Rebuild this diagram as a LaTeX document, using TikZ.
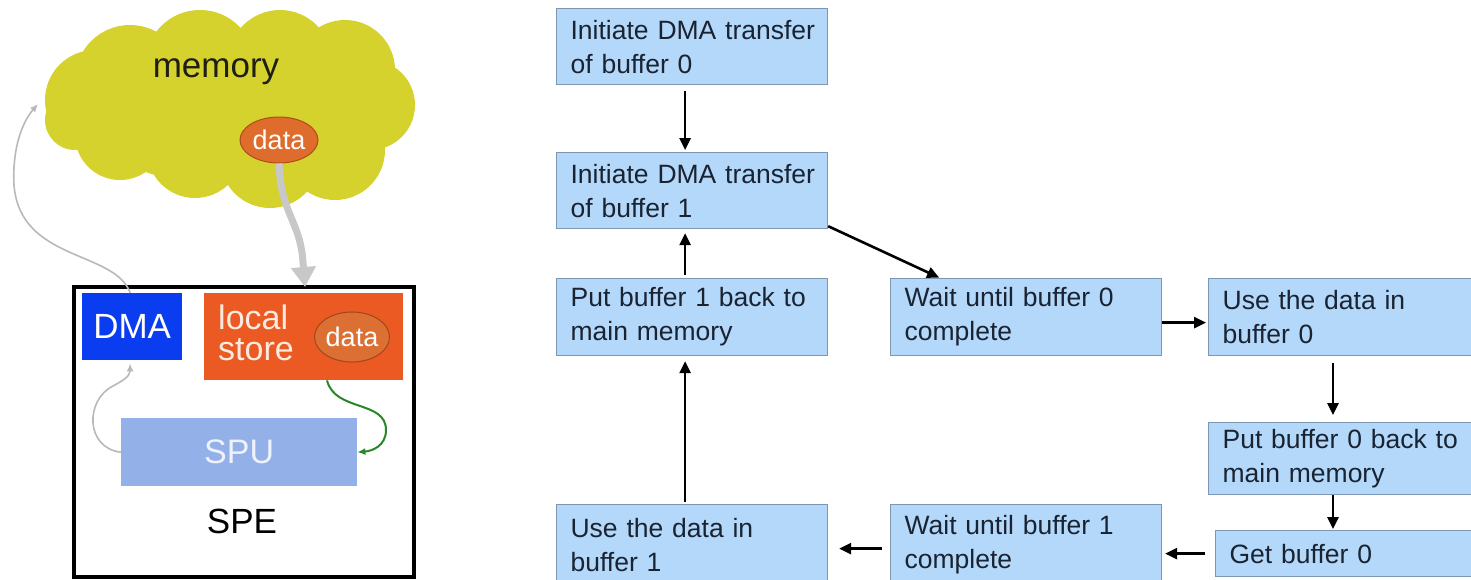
\documentclass[tikz,border=0pt]{standalone}
\usepackage{fontspec}
\setmainfont{Liberation Sans}
\usetikzlibrary{arrows.meta,shapes.geometric}

\definecolor{boxfill}{RGB}{180,216,250}
\definecolor{boxline}{RGB}{125,150,178}
\definecolor{boxtext}{RGB}{25,35,50}
\definecolor{cloudc}{RGB}{213,210,45}
\definecolor{dataorange}{RGB}{222,108,45}
\definecolor{dataedge}{RGB}{175,75,25}
\definecolor{dmablue}{RGB}{10,60,240}
\definecolor{lsorange}{RGB}{236,90,35}
\definecolor{spublue}{RGB}{148,176,232}
\definecolor{flowgray}{RGB}{200,200,200}
\definecolor{thingray}{RGB}{185,185,185}
\definecolor{greenarr}{RGB}{40,135,40}

\begin{document}
\begin{tikzpicture}[x=1pt,y=-1pt,
  stepbox/.style={draw=boxline, fill=boxfill, line width=1.2pt, anchor=north west,
    text width=243pt, align=left, inner xsep=14pt, inner ysep=0pt,
    minimum width=271pt, text=boxtext, font=\fontsize{26.5}{34}\selectfont},
  flow/.style={-{Triangle[length=12pt,width=11pt]}, line width=2.6pt, black},
  datablob/.style={ellipse, fill=dataorange, draw=dataedge, line width=1pt, inner sep=0pt,
    text=white, font=\fontsize{27}{27}\selectfont},
  thinarr/.style={thingray, line width=1.6pt, -{Latex[length=8pt,width=7pt]}},
  bigfont/.style={font=\fontsize{35}{35}\selectfont}]

\useasboundingbox (0,0) rectangle (1471,579);
\clip (0,0) rectangle (1471,579);
\fill[white] (0,0) rectangle (1471,579);

% ---------- memory cloud ----------
\fill[cloudc] (95,100) circle[radius=50]
              (130,80) circle[radius=55]
              (200,65) circle[radius=55]
              (280,62) circle[radius=52]
              (345,70) circle[radius=50]
              (370,105) circle[radius=45]
              (335,150) circle[radius=50]
              (270,158) circle[radius=50]
              (195,150) circle[radius=48]
              (120,135) circle[radius=45]
              (75,120) circle[radius=30]
              (230,110) ellipse[x radius=150, y radius=75];
\node[bigfont, anchor=base, text={rgb,255:red,30;green,30;blue,20}, inner sep=0pt] (mem) at (216,77) {memory};
\node[datablob, minimum width=78pt, minimum height=46pt] (memdata) at (279,140) {data};
\coordinate (cloudleft) at (38,104);

% ---------- SPE ----------
\node[draw=black, line width=4pt, minimum width=340pt, minimum height=290pt,
      anchor=north west, inner sep=0pt] (spe) at (72,285) {};
\node[fill=dmablue, minimum width=100pt, minimum height=67pt, anchor=north west,
      text=white, bigfont, inner sep=0pt] (dma) at (82,293) {DMA};
\node[fill=lsorange, minimum width=199pt, minimum height=87pt, anchor=north west,
      inner sep=0pt] (ls) at (204,293) {};
\node[anchor=west, align=left, inner sep=0pt, text={rgb,255:red,250;green,235;blue,225},
      font=\fontsize{34}{31}\selectfont] (lstext) at (218,333) {local\\store};
\node[datablob, minimum width=75pt, minimum height=50pt, fill={rgb,255:red,220;green,112;blue,50},
      draw={rgb,255:red,160;green,70;blue,30}] (lsdata) at (352,337) {data};
\node[fill=spublue, minimum width=236pt, minimum height=68pt, anchor=north west,
      text={rgb,255:red,238;green,242;blue,252}, font=\fontsize{34}{34}\selectfont,
      inner sep=0pt] (spu) at (121,418) {SPU};
\node[bigfont, inner sep=0pt] (spelabel) at (242,521) {SPE};

% transfers on the SPE side
\draw[line width=7pt, flowgray, -{Triangle[length=20pt,width=24pt]}]
  (memdata.south) .. controls (281,215) and (300,220) .. (303,262) -- ([xshift=233pt,yshift=-2pt]spe.north west);
\draw[thinarr] ([xshift=-2pt]dma.north) .. controls (115,250) and (20,262) .. (14,185)
  .. controls (12,145) and (24,120) .. (cloudleft);
\draw[thinarr, shorten >=3pt] (spu.west) .. controls (85,448) and (85,400) .. (113,386)
  .. controls (124,380) and (130,376) .. ([xshift=-2pt]dma.south);
\draw[greenarr, line width=2pt, -{Latex[length=8pt,width=7pt]}]
  ([xshift=123pt]ls.south west) .. controls (335,412) and (386,400) .. (386,430)
  .. controls (386,446) and (372,451) .. (spu.east);

% ---------- double-buffering flow ----------
\node[stepbox, minimum height=76pt] (b1) at (556,8) {\mbox{Initiate DMA transfer}\\\mbox{of buffer 0}};
\node[stepbox, minimum height=76pt] (b2) at (556,152) {\mbox{Initiate DMA transfer}\\\mbox{of buffer 1}};
\node[stepbox, minimum height=77pt] (b3) at (556,278) {\mbox{Put buffer 1 back to}\\\mbox{main memory}};
\node[stepbox, minimum height=80pt] (b4) at (556,504) {\mbox{Use the data in}\\\mbox{buffer 1}};
\node[stepbox, minimum height=77pt] (w0) at (890,278) {\mbox{Wait until buffer 0}\\\mbox{complete}};
\node[stepbox, minimum height=80pt] (w1) at (890,504) {\mbox{Wait until buffer 1}\\\mbox{complete}};
\node[stepbox, minimum height=77pt, inner xsep=12pt] (u0) at (1208,278) {\mbox{Use the data in}\\\mbox{buffer 0}};
\node[stepbox, minimum height=72pt, inner xsep=12pt] (p0) at (1208,422) {\mbox{Put buffer 0 back to}\\\mbox{main memory}};
\node[stepbox, minimum height=46pt] (g0) at (1215,530) {\mbox{Get buffer 0}};

\draw[flow, shorten <=6pt, shorten >=2pt] ([xshift=-7pt]b1.south) -- ([xshift=-7pt]b2.north);
\draw[flow, shorten <=3pt, shorten >=4pt] ([xshift=-7pt]b3.north) -- ([xshift=-7pt]b2.south);
\draw[flow, shorten <=2pt, shorten >=5pt] ([xshift=-7pt]b4.north) -- ([xshift=-7pt]b3.south);
\draw[flow, shorten >=1pt] ([yshift=3pt]b2.south east) -- ([xshift=50pt]w0.north west);
\draw[flow, shorten >=2pt] ([yshift=-5.5pt]w0.east) -- ([yshift=-5.5pt]u0.west);
\draw[flow, shorten <=7pt, shorten >=7pt] ([xshift=125pt]u0.south west) -- ([xshift=125pt]p0.north west);
\draw[flow, shorten >=1pt] ([xshift=125pt]p0.south west) -- ([xshift=118pt]g0.north west);
\draw[flow, shorten <=10pt, shorten >=3pt] (g0.west) -- (w1.east |- g0.west);
\draw[flow, shorten <=8pt, shorten >=11pt] ([yshift=-4pt]w1.west) -- ([yshift=-4pt]b4.east);
\end{tikzpicture}
\end{document}
